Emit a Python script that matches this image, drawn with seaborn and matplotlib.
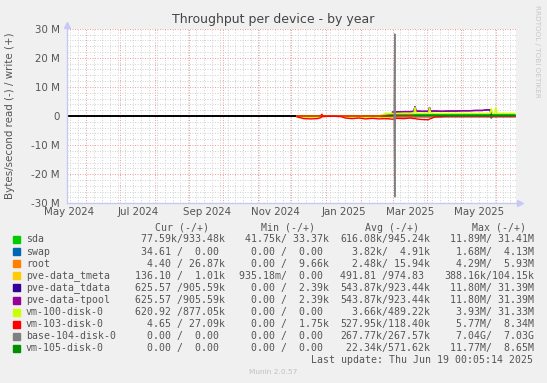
import numpy as np
import pandas as pd
import matplotlib
matplotlib.use("Agg")
import matplotlib.pyplot as plt
import matplotlib.dates as mdates
from matplotlib.ticker import MultipleLocator, FuncFormatter
from matplotlib.transforms import blended_transform_factory, ScaledTranslation
import seaborn as sns

# legend table (values as munin prints them)
devices = ["sda", "swap", "root", "pve-data_tmeta", "pve-data_tdata", "pve-data-tpool",
           "vm-100-disk-0", "vm-103-disk-0", "base-104-disk-0", "vm-105-disk-0"]
colors = ["#00CC00", "#0066B3", "#FF8000", "#FFCC00", "#330099", "#990099",
          "#CCFF00", "#FF0000", "#808080", "#008F00"]
cur_col = [" 77.59k/933.48k", " 34.61 /  0.00 ", "  4.40 / 26.87k", "136.10 /  1.01k",
           "625.57 /905.59k", "625.57 /905.59k", "620.92 /877.05k", "  4.65 / 27.09k",
           "  0.00 /  0.00 ", "  0.00 /  0.00 "]
min_col = [" 41.75k/ 33.37k", "  0.00 /  0.00 ", "  0.00 /  9.66k", "935.18m/  0.00 ",
           "  0.00 /  2.39k", "  0.00 /  2.39k", "  0.00 /  0.00 ", "  0.00 /  1.75k",
           "  0.00 /  0.00 ", "  0.00 /  0.00 "]
avg_col = ["616.08k/945.24k", "  3.82k/  4.91k", "  2.48k/ 15.94k", "491.81 /974.83 ",
           "543.87k/923.44k", "543.87k/923.44k", "  3.66k/489.22k", "527.95k/118.40k",
           "267.77k/267.57k", " 22.34k/571.62k"]
max_col = [" 11.89M/ 31.41M", "  1.68M/  4.13M", "  4.29M/  5.93M", "388.16k/104.15k",
           " 11.80M/ 31.39M", " 11.80M/ 31.39M", "  3.93M/ 31.33M", "  5.77M/  8.34M",
           "  7.04G/  7.03G", " 11.77M/  8.65M"]

# sampled days (values in MB/s, read given as magnitude)
days = ["2024-12-06", "2024-12-12", "2024-12-18", "2024-12-24", "2024-12-27", "2024-12-28",
        "2024-12-29", "2025-01-02", "2025-01-08", "2025-01-14", "2025-01-18", "2025-01-24",
        "2025-01-30", "2025-02-05", "2025-02-11", "2025-02-17", "2025-02-23", "2025-03-01",
        "2025-03-05", "2025-03-11", "2025-03-17", "2025-03-20", "2025-03-21", "2025-03-22",
        "2025-03-27", "2025-04-02", "2025-04-03", "2025-04-04", "2025-04-08", "2025-04-14",
        "2025-04-20", "2025-04-26", "2025-05-02", "2025-05-08", "2025-05-14", "2025-05-20",
        "2025-05-24", "2025-05-27", "2025-05-28", "2025-05-29", "2025-05-31", "2025-06-01",
        "2025-06-02", "2025-06-06", "2025-06-12", "2025-06-18"]

sda_read = [0.1, 0.1, 0.1, 0.1, 0.1, 0.1, 0.1, 0.1, 0.1, 0.1, 0.1, 0.1,
            0.1, 0.1, 0.1, 0.2, 0.9, 0.3, 0.2, 0.2, 0.2, 0.2, 0.2, 0.2,
            0.2, 0.2, 0.2, 0.2, 0.2, 0.2, 0.2, 0.2, 0.2, 0.2, 0.2, 0.2,
            0.2, 0.2, 0.8, 0.2, 0.2, 0.2, 0.2, 0.2, 0.2, 0.2]
sda_write = [0.1, 0.1, 0.1, 0.1, 0.1, 0.1, 0.1, 0.1, 0.1, 0.1, 0.1, 0.1,
             0.1, 0.1, 0.1, 0.1, 0.3, 0.5, 0.5, 0.5, 0.5, 0.5, 0.5, 0.5,
             0.5, 0.5, 0.5, 0.5, 0.5, 0.5, 0.5, 0.5, 0.5, 0.5, 0.5, 0.5,
             0.5, 0.6, 1.8, 0.5, 0.5, 0.5, 0.5, 0.5, 0.5, 0.5]
tpool_read = [None] * 17 + [0.1] * 29
tpool_write = [None] * 17 + [1.3, 1.4, 1.5, 1.5, 1.6, 3.2, 1.7, 1.6, 1.6, 2.9, 1.7, 1.7,
                             1.6, 1.7, 1.7, 1.8, 1.8, 1.9, 1.9, 2.1, 2.1, 0.1, 0.1, 0.1,
                             0.1, 0.1, 0.1, 0.1, 0.1]
vm100_read = [0.3, 0.4, 0.5, 0.4, 0.4, 0.3, 0.2, 0.1, 0.1, 0.1, 0.4, 0.4,
              0.4, 0.5, 0.4, 0.4, 0.4, 0.3, 0.1, 0.1, 0.1, 0.1, 0.1, 0.1,
              0.1, 0.1, 0.1, 0.1, 0.1, 0.1, 0.1, 0.1, 0.1, 0.1, 0.1, 0.1,
              0.1, 0.1, 0.1, 0.1, 0.1, 0.1, 0.1, 0.1, 0.1, 0.1]
vm100_write = [0.0, 0.0, 0.0, 0.0, 0.0, 0.5, 0.0, 0.0, 0.0, 0.0, 0.0, 0.0,
               0.0, 0.0, 0.0, 0.0, 0.9, 0.9, 0.9, 0.9, 0.9, 0.9, 3.0, 1.0,
               0.9, 0.9, 2.8, 1.0, 0.9, 0.9, 0.9, 0.9, 0.9, 0.9, 0.9, 0.9,
               0.9, 0.9, 2.6, 0.9, 0.9, 2.9, 0.9, 0.9, 0.9, 0.9]
vm103_read = [0.3, 0.9, 1.0, 0.9, 0.6, 0.2, 0.2, 0.1, 0.1, 0.2, 0.7, 0.9,
              0.7, 1.0, 0.8, 1.0, 0.9, 1.1, 0.8, 0.9, 0.7, 0.9, 0.8, 1.0,
              1.2, 1.3, 1.0, 0.9, 0.3, 0.2, 0.0, 0.0, 0.0, 0.0, 0.0, 0.0,
              0.0, 0.0, 0.0, 0.0, 0.0, 0.0, 0.0, 0.0, 0.0, 0.0]
vm103_write = [0.0, 0.0, 0.0, 0.0, 0.0, 0.6, 0.0, 0.0, 0.0, 0.0, 0.0, 0.0,
               0.0, 0.0, 0.0, 0.0, 0.0, 0.0, 0.0, 0.0, 0.0, 0.0, 0.0, 0.0,
               0.0, 0.0, 0.0, 0.0, 0.0, 0.0, 0.0, 0.0, 0.0, 0.0, 0.0, 0.0,
               0.0, 0.0, 0.0, 0.0, 0.0, 0.0, 0.0, 0.0, 0.0, 0.0]
vm105_write = [None] * 21 + [0.2] * 25

spike_days = ["2025-03-02 12:00", "2025-03-03 00:00", "2025-03-03 12:00"]
base104_read = [0.0, 27.8, 0.0]
base104_write = [0.0, 28.2, 0.0]

W, H = 547, 383
fig = plt.figure(figsize=(W / 100, H / 100), dpi=100, facecolor="#F0F0F0")
ax = fig.add_axes([67 / W, 1 - 203.3 / H, (516 - 67) / W, (203.3 - 28.7) / H])
ax.set_facecolor("#FFFFFF")
ax.axhline(0, color="black", lw=1.4, zorder=1)


def draw(dates, vals, color, sign):
    frame = pd.DataFrame({"t": pd.to_datetime(dates),
                          "v": np.array(vals, dtype=float) * sign}).dropna()
    sns.lineplot(data=frame, x="t", y="v", color=color, lw=1.0, ax=ax,
                 estimator=None, sort=False, zorder=3)


draw(days, sda_read, colors[0], -1)
draw(days, sda_write, colors[0], 1)
draw(days, tpool_read, colors[4], -1)
draw(days, tpool_write, colors[4], 1)
draw(days, tpool_read, colors[5], -1)
draw(days, tpool_write, colors[5], 1)
draw(days, vm100_read, colors[6], -1)
draw(days, vm100_write, colors[6], 1)
draw(days, vm103_read, colors[7], -1)
draw(days, vm103_write, colors[7], 1)
draw(spike_days, base104_read, colors[8], -1)
draw(spike_days, base104_write, colors[8], 1)
draw(days, vm105_write, colors[9], 1)

ax.set_xlim(pd.Timestamp("2024-05-15 00:05"), pd.Timestamp("2025-06-19 00:05"))
ax.set_ylim(-30, 30)
ax.set_xlabel("")
ax.set_ylabel("")

# grids
dot = (0, (1, 1.5))
ax.yaxis.set_major_locator(MultipleLocator(10))
ax.yaxis.set_minor_locator(MultipleLocator(2))
ax.xaxis.set_major_locator(mdates.MonthLocator())
ax.xaxis.set_minor_locator(mdates.WeekdayLocator(byweekday=mdates.SA))
ax.grid(which="major", color="#F0A0A0", ls=dot, lw=0.72)
ax.grid(which="minor", color="#D4D4D4", ls=dot, lw=0.72)
ax.set_axisbelow(True)
ax.xaxis.set_major_formatter(FuncFormatter(lambda v, p: ""))
ax.yaxis.set_major_formatter(FuncFormatter(lambda v, p: "0" if v == 0 else f"{int(v)} M"))
ax.tick_params(which="both", length=0)
ax.tick_params(axis="y", labelsize=7.4, labelcolor="#555555", pad=5)

# month labels centred in their month
lab_tr = blended_transform_factory(ax.transData, ax.transAxes) + \
    ScaledTranslation(0, -9 / 100, fig.dpi_scale_trans)
for m in ["2024-05", "2024-07", "2024-09", "2024-11", "2025-01", "2025-03", "2025-05"]:
    t = pd.Timestamp(m + "-01") + pd.Timedelta(days=16)
    ax.text(mdates.date2num(t), 0, t.strftime("%b %Y"), transform=lab_tr,
            ha="center", va="center", fontsize=7.4, color="#555555")

for s in ["top", "right"]:
    ax.spines[s].set_visible(False)
for s in ["left", "bottom"]:
    ax.spines[s].set_color("#C8C8F4")
    ax.spines[s].set_linewidth(1.0)
ax.plot([0], [1.02], marker="^", ms=4, color="#C8C8F8", transform=ax.transAxes, clip_on=False)
ax.plot([1.01], [0], marker=">", ms=4, color="#C8C8F8", transform=ax.transAxes, clip_on=False)

fig.text(273 / W, 1 - 20 / H, "Throughput per device - by year", ha="center", va="center",
         fontsize=9, color="#444444")
fig.text(10 / W, 1 - 116 / H, "Bytes/second read (-) / write (+)", rotation=90,
         ha="center", va="center", fontsize=7.4, color="#555555")
fig.text(537 / W, 1 - 5 / H, "RRDTOOL / TOBI OETIKER", rotation=-90, ha="center", va="top",
         fontsize=5.2, color="#C8C8C8")

# legend table
mono = "DejaVu Sans Mono"
fs = 7.1
for x, h in [(208.6, "Cur (-/+)"), (315, "Min (-/+)"), (418.7, "Avg (-/+)"), (526, "Max (-/+)")]:
    fig.text(x / W, 1 - 228 / H, h, ha="right", va="center", family=mono, fontsize=fs,
             color="#555555")
cw = 0.602 * fs * 100 / 72
for i, name in enumerate(devices):
    y = 1 - (239.5 + i * 12.1) / H
    fig.patches.append(plt.Rectangle((13 / W, y - 3.5 / H), 7 / W, 7 / H,
                                     transform=fig.transFigure, color=colors[i]))
    fig.text(26 / W, y, name, ha="left", va="center", family=mono, fontsize=fs,
             color="#555555")
    for end, col in [(224, cur_col), (328, min_col), (429, avg_col), (533, max_col)]:
        fig.text((end - 15 * cw) / W, y, col[i], ha="left", va="center", family=mono,
                 fontsize=fs, color="#555555")
fig.text(533 / W, 1 - 360 / H, "Last update: Thu Jun 19 00:05:14 2025", ha="right",
         va="center", family=mono, fontsize=fs, color="#555555")
fig.text(273 / W, 1 - 372 / H, "Munin 2.0.57", ha="center", va="center", fontsize=5.3,
         color="#C0C0C0")

fig.savefig("out.png", dpi=100, facecolor=fig.get_facecolor())
